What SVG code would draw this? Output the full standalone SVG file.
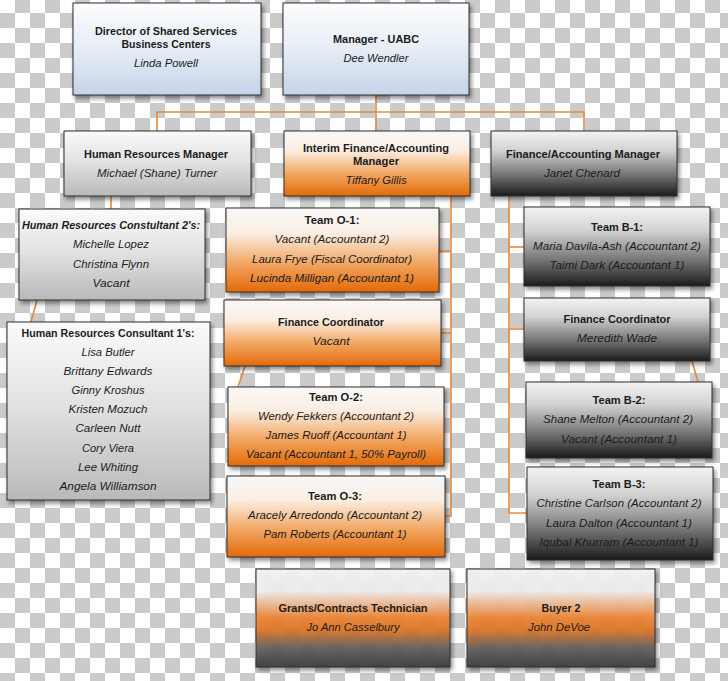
<svg xmlns="http://www.w3.org/2000/svg" width="728" height="681" viewBox="0 0 728 681">
<defs>
<pattern id="checker" x="0" y="-2" width="30" height="30" patternUnits="userSpaceOnUse">
<rect width="30" height="30" fill="#ffffff"/>
<rect x="15" y="0" width="15" height="15" fill="#cbcbcb"/>
<rect x="0" y="15" width="15" height="15" fill="#cbcbcb"/>
</pattern>
<linearGradient id="gBlue" x1="0" y1="0" x2="0" y2="1">
<stop offset="0" stop-color="#fcfdfe"/><stop offset="0.5" stop-color="#e6edf6"/><stop offset="1" stop-color="#c4d4ea"/>
</linearGradient>
<linearGradient id="gGrey" x1="0" y1="0" x2="0" y2="1">
<stop offset="0" stop-color="#fbfbfb"/><stop offset="0.5" stop-color="#e0e0e0"/><stop offset="1" stop-color="#b9b9b9"/>
</linearGradient>
<linearGradient id="gOrange" x1="0" y1="0" x2="0" y2="1">
<stop offset="0" stop-color="#f8f8f8"/><stop offset="0.3" stop-color="#fbeee3"/><stop offset="0.65" stop-color="#f2a865"/><stop offset="1" stop-color="#e36a08"/>
</linearGradient>
<linearGradient id="gDark" x1="0" y1="0" x2="0" y2="1">
<stop offset="0" stop-color="#f3f3f3"/><stop offset="0.3" stop-color="#d2d2d2"/><stop offset="0.7" stop-color="#6e6e6e"/><stop offset="1" stop-color="#1a1a1a"/>
</linearGradient>
<linearGradient id="gTri" x1="0" y1="0" x2="0" y2="1">
<stop offset="0" stop-color="#f3f3f3"/><stop offset="0.22" stop-color="#efefef"/><stop offset="0.5" stop-color="#ec8434"/><stop offset="0.62" stop-color="#e0782a"/><stop offset="0.82" stop-color="#5e5e5e"/><stop offset="1" stop-color="#3e3e3e"/>
</linearGradient>
<filter id="shadow" x="-10%" y="-10%" width="125%" height="130%">
<feDropShadow dx="2" dy="3" stdDeviation="2" flood-color="#000" flood-opacity="0.45"/>
</filter>
</defs>
<style>
.box{stroke:#2e2e2e;stroke-width:1;filter:url(#shadow)}
.blue{fill:url(#gBlue)}
.grey{fill:url(#gGrey)}
.orange{fill:url(#gOrange)}
.dark{fill:url(#gDark)}
.tri{fill:url(#gTri);fill-opacity:0.93}
text{font-family:"Liberation Sans",Arial,sans-serif;font-size:11.5px;fill:#1c1c1c;text-anchor:middle}
.b{font-weight:bold}
.i{font-style:italic}
.bi{font-weight:bold;font-style:italic}
.con{stroke:#e58a3c;stroke-width:1.6;fill:none}
</style>
<rect width="728" height="681" fill="url(#checker)"/>

<g id="connectors">
<path class="con" d="M376,95 V131"/>
<path class="con" d="M157,131 V112 H584 V131"/>
<path class="con" d="M111,196 V209"/>
<path class="con" d="M37,300 L31,322"/>
<path class="con" d="M451,196 V516 H445"/>
<path class="con" d="M439,251 H451"/>
<path class="con" d="M441,333 H451"/>
<path class="con" d="M245,366 L238,387"/>
<path class="con" d="M509,196 V513 H527"/>
<path class="con" d="M509,247 H524"/>
<path class="con" d="M509,329 H524"/>
<path class="con" d="M692,361 L698,382"/>
</g>

<g id="director">
<rect class="box blue" x="73" y="3" width="188" height="92"/>
<text class="b" x="166" y="35" textLength="142" lengthAdjust="spacingAndGlyphs">Director of Shared Services</text>
<text class="b" x="166" y="48" textLength="89" lengthAdjust="spacingAndGlyphs">Business Centers</text>
<text class="i" x="166" y="67" textLength="64" lengthAdjust="spacingAndGlyphs">Linda Powell</text>
</g>

<g id="manager-uabc">
<rect class="box blue" x="283" y="3" width="186" height="92"/>
<text class="b" x="376" y="43" textLength="86" lengthAdjust="spacingAndGlyphs">Manager - UABC</text>
<text class="i" x="376" y="62" textLength="65" lengthAdjust="spacingAndGlyphs">Dee Wendler</text>
</g>

<g id="hr-manager">
<rect class="box grey" x="64" y="131" width="187" height="65"/>
<text class="b" x="156" y="158" textLength="144" lengthAdjust="spacingAndGlyphs">Human Resources Manager</text>
<text class="i" x="157" y="177" textLength="120" lengthAdjust="spacingAndGlyphs">Michael (Shane) Turner</text>
</g>

<g id="interim-manager">
<rect class="box orange" x="284" y="131" width="186" height="65"/>
<text class="b" x="376" y="152" textLength="146" lengthAdjust="spacingAndGlyphs">Interim Finance/Accounting</text>
<text class="b" x="376" y="165" textLength="46" lengthAdjust="spacingAndGlyphs">Manager</text>
<text class="i" x="376" y="184" textLength="61" lengthAdjust="spacingAndGlyphs">Tiffany Gillis</text>
</g>

<g id="finance-manager">
<rect class="box dark" x="491" y="131" width="186" height="65"/>
<text class="b" x="583" y="158" textLength="154" lengthAdjust="spacingAndGlyphs">Finance/Accounting Manager</text>
<text class="i" x="582" y="177" textLength="76" lengthAdjust="spacingAndGlyphs">Janet Chenard</text>
</g>

<g id="hr-consultant-2">
<rect class="box grey" x="19" y="209" width="186" height="91"/>
<text class="bi" x="111" y="229" textLength="178" lengthAdjust="spacingAndGlyphs">Human Resources Constultant 2's:</text>
<text class="i" x="111" y="248" textLength="76" lengthAdjust="spacingAndGlyphs">Michelle Lopez</text>
<text class="i" x="111" y="268" textLength="76" lengthAdjust="spacingAndGlyphs">Christina Flynn</text>
<text class="i" x="111" y="287" textLength="37" lengthAdjust="spacingAndGlyphs">Vacant</text>
</g>

<g id="hr-consultant-1">
<rect class="box grey" x="7" y="322" width="203" height="178"/>
<text class="b" x="108" y="337" textLength="173" lengthAdjust="spacingAndGlyphs">Human Resources Consultant 1's:</text>
<text class="i" x="108" y="356" textLength="53" lengthAdjust="spacingAndGlyphs">Lisa Butler</text>
<text class="i" x="108" y="375" textLength="89" lengthAdjust="spacingAndGlyphs">Brittany Edwards</text>
<text class="i" x="108" y="394" textLength="73" lengthAdjust="spacingAndGlyphs">Ginny Kroshus</text>
<text class="i" x="108" y="413" textLength="79" lengthAdjust="spacingAndGlyphs">Kristen Mozuch</text>
<text class="i" x="108" y="432" textLength="65" lengthAdjust="spacingAndGlyphs">Carleen Nutt</text>
<text class="i" x="108" y="452" textLength="52" lengthAdjust="spacingAndGlyphs">Cory Viera</text>
<text class="i" x="108" y="471" textLength="60" lengthAdjust="spacingAndGlyphs">Lee Whiting</text>
<text class="i" x="108" y="490" textLength="97" lengthAdjust="spacingAndGlyphs">Angela Williamson</text>
</g>

<g id="team-o1">
<rect class="box orange" x="226" y="208" width="213" height="84"/>
<text class="b" x="332" y="224" textLength="55" lengthAdjust="spacingAndGlyphs">Team O-1:</text>
<text class="i" x="332" y="243" textLength="115" lengthAdjust="spacingAndGlyphs">Vacant (Accountant 2)</text>
<text class="i" x="332" y="263" textLength="160" lengthAdjust="spacingAndGlyphs">Laura Frye (Fiscal Coordinator)</text>
<text class="i" x="332" y="282" textLength="164" lengthAdjust="spacingAndGlyphs">Lucinda Milligan (Accountant 1)</text>
</g>

<g id="finance-coordinator-o">
<rect class="box orange" x="224" y="300" width="217" height="66"/>
<text class="b" x="331" y="326" textLength="106" lengthAdjust="spacingAndGlyphs">Finance Coordinator</text>
<text class="i" x="331" y="345" textLength="37" lengthAdjust="spacingAndGlyphs">Vacant</text>
</g>

<g id="team-o2">
<rect class="box orange" x="228" y="387" width="216" height="79"/>
<text class="b" x="336" y="401" textLength="54" lengthAdjust="spacingAndGlyphs">Team O-2:</text>
<text class="i" x="336" y="420" textLength="156" lengthAdjust="spacingAndGlyphs">Wendy Fekkers (Accountant 2)</text>
<text class="i" x="336" y="439" textLength="141" lengthAdjust="spacingAndGlyphs">James Ruoff (Accountant 1)</text>
<text class="i" x="336" y="458" textLength="180" lengthAdjust="spacingAndGlyphs">Vacant (Accountant 1, 50% Payroll)</text>
</g>

<g id="team-o3">
<rect class="box orange" x="227" y="476" width="218" height="81"/>
<text class="b" x="335" y="500" textLength="54" lengthAdjust="spacingAndGlyphs">Team O-3:</text>
<text class="i" x="335" y="519" textLength="174" lengthAdjust="spacingAndGlyphs">Aracely Arredondo (Accountant 2)</text>
<text class="i" x="335" y="538" textLength="143" lengthAdjust="spacingAndGlyphs">Pam Roberts (Accountant 1)</text>
</g>

<g id="team-b1">
<rect class="box dark" x="524" y="207" width="186" height="79"/>
<text class="b" x="617" y="231" textLength="52" lengthAdjust="spacingAndGlyphs">Team B-1:</text>
<text class="i" x="617" y="250" textLength="168" lengthAdjust="spacingAndGlyphs">Maria Davila-Ash (Accountant 2)</text>
<text class="i" x="617" y="269" textLength="135" lengthAdjust="spacingAndGlyphs">Taimi Dark (Accountant 1)</text>
</g>

<g id="finance-coordinator-b">
<rect class="box dark" x="524" y="298" width="186" height="63"/>
<text class="b" x="617" y="323" textLength="107" lengthAdjust="spacingAndGlyphs">Finance Coordinator</text>
<text class="i" x="617" y="342" textLength="80" lengthAdjust="spacingAndGlyphs">Meredith Wade</text>
</g>

<g id="team-b2">
<rect class="box dark" x="526" y="382" width="186" height="76"/>
<text class="b" x="619" y="404" textLength="53" lengthAdjust="spacingAndGlyphs">Team B-2:</text>
<text class="i" x="618" y="423" textLength="150" lengthAdjust="spacingAndGlyphs">Shane Melton (Accountant 2)</text>
<text class="i" x="619" y="443" textLength="116" lengthAdjust="spacingAndGlyphs">Vacant (Accountant 1)</text>
</g>

<g id="team-b3">
<rect class="box dark" x="527" y="467" width="186" height="93"/>
<text class="b" x="619" y="488" textLength="53" lengthAdjust="spacingAndGlyphs">Team B-3:</text>
<text class="i" x="619" y="507" textLength="165" lengthAdjust="spacingAndGlyphs">Christine Carlson (Accountant 2)</text>
<text class="i" x="619" y="527" textLength="146" lengthAdjust="spacingAndGlyphs">Laura Dalton (Accountant 1)</text>
<text class="i" x="619" y="546" textLength="159" lengthAdjust="spacingAndGlyphs">Iqubal Khurram (Accountant 1)</text>
</g>

<g id="grants-technician">
<rect class="box tri" x="256" y="569" width="194" height="98"/>
<text class="b" x="353" y="612" textLength="149" lengthAdjust="spacingAndGlyphs">Grants/Contracts Technician</text>
<text class="i" x="353" y="631" textLength="93" lengthAdjust="spacingAndGlyphs">Jo Ann Casselbury</text>
</g>

<g id="buyer-2">
<rect class="box tri" x="467" y="569" width="188" height="98"/>
<text class="b" x="561" y="612" textLength="39" lengthAdjust="spacingAndGlyphs">Buyer 2</text>
<text class="i" x="559" y="631" textLength="62" lengthAdjust="spacingAndGlyphs">John DeVoe</text>
</g>
</svg>
